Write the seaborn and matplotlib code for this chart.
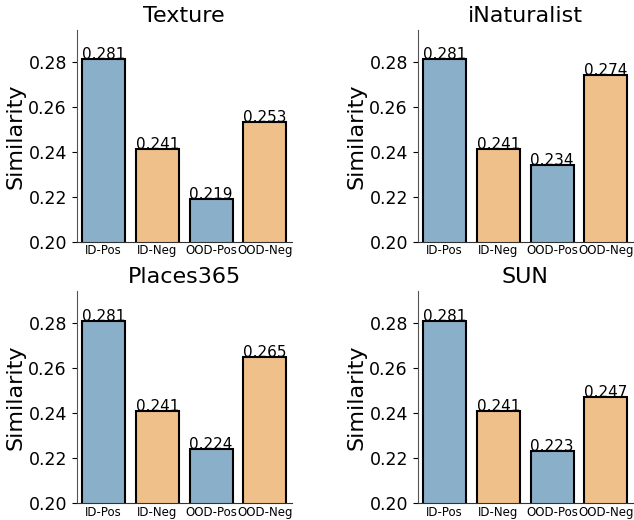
import seaborn as sns
import pandas as pd
import matplotlib.pyplot as plt

datasets = ["Texture", "iNaturalist", "Places365", "SUN"]
categories = ["ID-Pos", "ID-Neg", "OOD-Pos", "OOD-Neg"]
id_pos = [0.281, 0.281, 0.281, 0.281]
id_neg = [0.241, 0.241, 0.241, 0.241]
ood_pos = [0.219, 0.234, 0.224, 0.223]
ood_neg = [0.253, 0.274, 0.265, 0.247]
colors = ["#8aafc8", "#efc08a", "#8aafc8", "#efc08a"]

sns.set_style("ticks")
plt.rcParams.update({"text.color": "black", "axes.labelcolor": "black",
                     "xtick.color": "black", "ytick.color": "black"})
fig, axes = plt.subplots(2, 2, figsize=(6.34, 5.2), dpi=100)
fig.subplots_adjust(left=0.121, right=0.998, top=0.942, bottom=0.033, wspace=0.586, hspace=0.235)

for i, (name, ax) in enumerate(zip(datasets, axes.flat)):
    df = pd.DataFrame({"cat": categories,
                       "val": [id_pos[i], id_neg[i], ood_pos[i], ood_neg[i]]})
    sns.barplot(data=df, x="cat", y="val", hue="cat", palette=colors, legend=False,
                edgecolor="black", linewidth=1.5, width=0.8, saturation=1, ax=ax)
    for p, v in zip(ax.patches, df["val"]):
        ax.text(p.get_x() + p.get_width() / 2, v, f"{v:.3f}", ha="center", va="baseline", fontsize=11)
    ax.set_ylim(0.20, 0.294)
    ax.set_yticks([0.20, 0.22, 0.24, 0.26, 0.28])
    ax.set_title(name, fontsize=16)
    ax.set_xlabel("")
    ax.set_ylabel("Similarity", fontsize=16, labelpad=2)
    ax.tick_params(axis="y", labelsize=12.5)
    ax.tick_params(axis="x", labelsize=8.5, length=0, pad=2)
    sns.despine(ax=ax)
    ax.spines["left"].set_color("#555555")
    ax.spines["bottom"].set_color("#333333")

fig.savefig("out.png", dpi=100)
